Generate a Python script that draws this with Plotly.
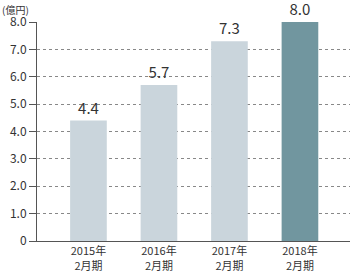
import plotly.graph_objects as go

categories = ["2015年<br>2月期", "2016年<br>2月期", "2017年<br>2月期", "2018年<br>2月期"]
values = [4.4, 5.7, 7.3, 8.0]
value_labels = ["4.4", "5.7", "7.3", "8.0"]
bar_colors = ["#cad5dc", "#cad5dc", "#cad5dc", "#71969f"]
tick_vals = [0, 1, 2, 3, 4, 5, 6, 7, 8]
tick_text = ["0", "1.0", "2.0", "3.0", "4.0", "5.0", "6.0", "7.0", "8.0"]

font_family = "Noto Sans CJK JP, Noto Sans, sans-serif"

fig = go.Figure(go.Bar(
    x=list(range(len(categories))),
    y=values,
    width=0.52,
    marker=dict(color=bar_colors, line=dict(width=0)),
    text=value_labels,
    textposition="outside",
    textfont=dict(size=15, color="#333333", family=font_family),
    cliponaxis=False,
))

fig.update_layout(
    width=350, height=272,
    margin=dict(l=37, r=0, t=22, b=31),
    paper_bgcolor="white", plot_bgcolor="white",
    showlegend=False,
    font=dict(family=font_family, color="#333333"),
    xaxis=dict(
        range=[-0.73, 3.71],
        tickvals=list(range(len(categories))),
        ticktext=categories,
        tickfont=dict(size=11, color="#333333"),
        showline=True, linecolor="#555555", linewidth=1,
        ticks="", showgrid=False, zeroline=False,
    ),
    yaxis=dict(
        range=[0, 8.0],
        tickvals=tick_vals,
        ticktext=tick_text,
        tickfont=dict(size=12, color="#333333"),
        showline=True, linecolor="#555555", linewidth=1,
        ticks="outside", ticklen=7, tickcolor="#555555", tickwidth=1,
        showgrid=True, gridcolor="#888888", griddash="dot", gridwidth=1,
        zeroline=False,
    ),
    annotations=[dict(
        text="(億円)", x=0, y=1, xref="paper", yref="paper",
        xanchor="left", yanchor="top", xshift=-37, yshift=22,
        showarrow=False, font=dict(size=10, color="#333333"),
    )],
)

fig.write_html("out.html")
